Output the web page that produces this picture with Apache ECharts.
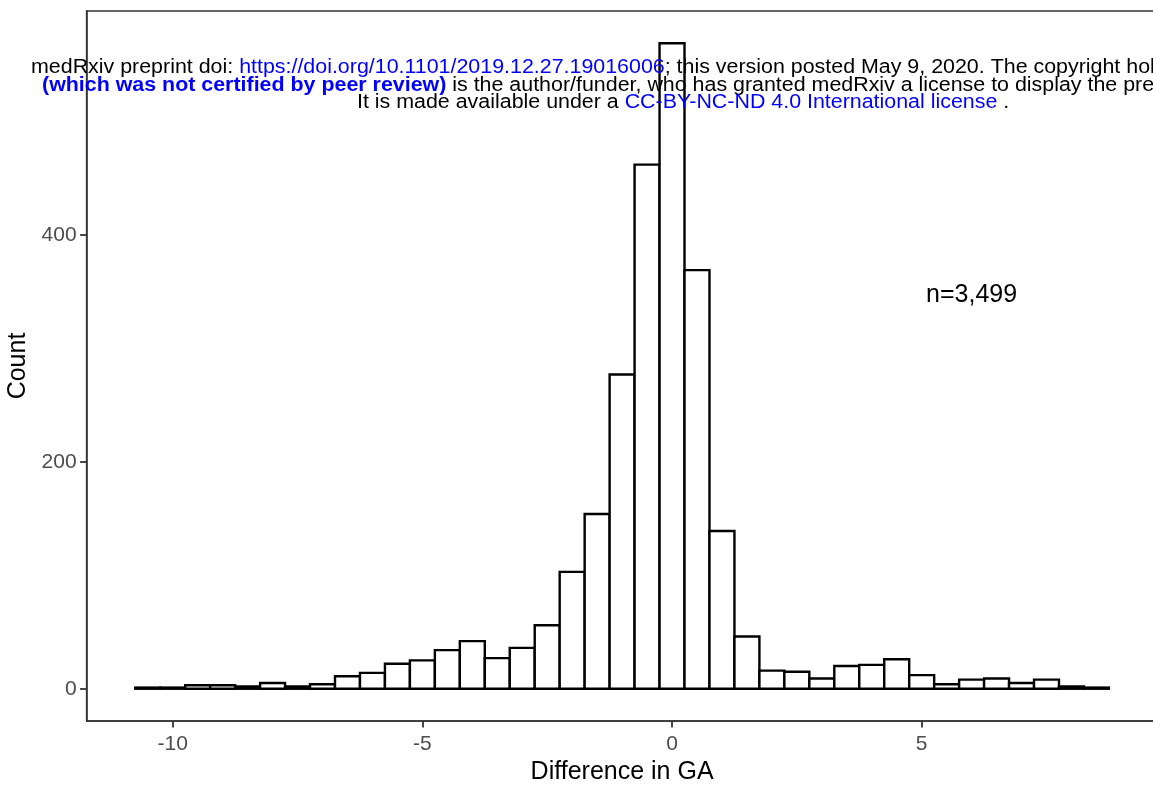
<!DOCTYPE html>
<html>
<head>
<meta charset="utf-8">
<script src="https://cdn.jsdelivr.net/npm/echarts@6/dist/echarts.min.js"></script>
<style>
html,body{margin:0;padding:0;background:#fff;}
#chart{width:1153px;height:786px;}
</style>
</head>
<body>
<div id="chart"></div>
<script>
// Histogram bin centers (bin width 0.5) and counts
const binCenters = [-10.5,-10,-9.5,-9,-8.5,-8,-7.5,-7,-6.5,-6,-5.5,-5,-4.5,-4,-3.5,-3,-2.5,-2,-1.5,-1,-0.5,0,0.5,1,1.5,2,2.5,3,3.5,4,4.5,5,5.5,6,6.5,7,7.5,8,8.5];
const counts     = [1,1,3,3,2,5,2,4,11,14,22,25,34,42,27,36,56,103,154,277,462,569,369,139,46,16,15,9,20,21,26,12,4,8,9,5,8,2,1];
const binWidth = 0.5;
const xTicks = [-10,-5,0,5];
const yTicks = [0,200,400];
const xTitle = 'Difference in GA';
const yTitle = 'Count';
const annotation = {x: 6, y: 347, text: 'n=3,499'};
const header1 = ['medRxiv preprint doi: ', 'https://doi.org/10.1101/2019.12.27.19016006', '; this version posted May 9, 2020. The copyright hol'];
const header2 = ['(which was not certified by peer review)', ' is the author/funder, who has granted medRxiv a license to display the pre'];
const header3 = ['It is made available under a ', 'CC-BY-NC-ND 4.0 International license', ' .'];

const FONT = '"Liberation Sans", Arial, Helvetica, sans-serif';
const histData = binCenters.map((c, i) => [c, counts[i]]);

const chart = echarts.init(document.getElementById('chart'), null, {renderer: 'canvas'});

const hs = 20;
const hScaleX = 1.07;
const rich = {
  k: {fill: '#000', fontSize: hs, fontFamily: FONT},
  b: {fill: '#0000FF', fontSize: hs, fontFamily: FONT},
  bb: {fill: '#0000FF', fontSize: hs, fontFamily: FONT, fontWeight: 'bold'}
};

const option = {
  backgroundColor: '#fff',
  animation: false,
  grid: {left: 86.6, right: -4.6, top: 11, bottom: 65, outerBoundsMode: 'none', containLabel: false,
         show: true, borderColor: '#333', borderWidth: 1.5, backgroundColor: 'transparent'},
  xAxis: {
    type: 'value', min: -11.725, max: 9.725,
    name: xTitle, nameLocation: 'middle', nameGap: 36,
    nameTextStyle: {fontSize: 25, color: '#000', fontFamily: FONT},
    axisLine: {show: true, onZero: false, lineStyle: {color: '#333', width: 1.5}},
    axisTick: {show: true, length: 6.5, lineStyle: {color: '#333', width: 1.8}, customValues: xTicks},
    axisLabel: {show: true, margin: 13, fontSize: 21, color: '#4D4D4D', fontFamily: FONT, customValues: xTicks},
    splitLine: {show: false}
  },
  yAxis: {
    type: 'value', min: -28.45, max: 597.45,
    name: yTitle, nameLocation: 'middle', nameGap: 46.5,
    nameTextStyle: {fontSize: 25, color: '#000', fontFamily: FONT},
    axisLine: {show: true, onZero: false, lineStyle: {color: '#333', width: 1.5}},
    axisTick: {show: true, length: 6.5, lineStyle: {color: '#333', width: 1.8}, customValues: yTicks},
    axisLabel: {show: true, margin: 10, fontSize: 21, color: '#4D4D4D', fontFamily: FONT, customValues: yTicks},
    splitLine: {show: false}
  },
  series: [
    {
      type: 'custom',
      data: histData,
      encode: {x: 0, y: 1},
      renderItem: function (params, api) {
        const c = api.value(0), v = api.value(1);
        const p0 = api.coord([c - binWidth / 2, v]);
        const p1 = api.coord([c + binWidth / 2, 0]);
        return {
          type: 'rect',
          shape: {x: p0[0], y: p0[1], width: p1[0] - p0[0], height: p1[1] - p0[1]},
          style: {fill: '#fff', stroke: '#000', lineWidth: 2.4}
        };
      }
    },
    {
      type: 'custom',
      data: [[annotation.x, annotation.y]],
      encode: {x: 0, y: 1},
      renderItem: function (params, api) {
        const p = api.coord([api.value(0), api.value(1)]);
        return {
          type: 'text', x: p[0], y: p[1],
          style: {text: annotation.text, fontSize: 25, fontFamily: FONT, fill: '#000', align: 'center', verticalAlign: 'middle'}
        };
      }
    }
  ],
  graphic: [
    {type: 'text', x: 31, y: 67.5, scaleX: hScaleX, z: 100,
     style: {text: '{k|' + header1[0] + '}{b|' + header1[1] + '}{k|' + header1[2] + '}', rich: rich, fontSize: hs, fontFamily: FONT, verticalAlign: 'middle', align: 'left'}},
    {type: 'text', x: 42, y: 85, scaleX: hScaleX, z: 100,
     style: {text: '{bb|' + header2[0] + '}{k|' + header2[1] + '}', rich: rich, fontSize: hs, fontFamily: FONT, verticalAlign: 'middle', align: 'left'}},
    {type: 'text', x: 357, y: 102.5, scaleX: hScaleX, z: 100,
     style: {text: '{k|' + header3[0] + '}{b|' + header3[1] + '}{k|' + header3[2] + '}', rich: rich, fontSize: hs, fontFamily: FONT, verticalAlign: 'middle', align: 'left'}}
  ]
};
chart.setOption(option);
</script>
</body>
</html>
